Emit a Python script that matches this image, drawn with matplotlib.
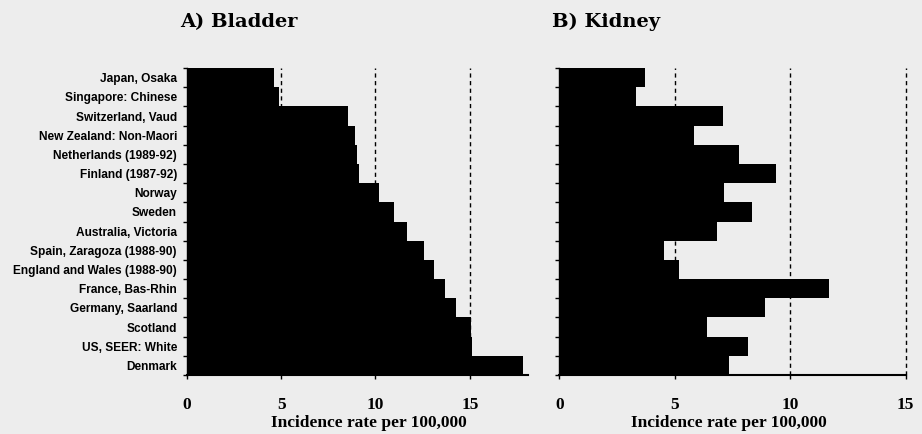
import numpy as np
import matplotlib
matplotlib.use("Agg")
import matplotlib.pyplot as plt
from matplotlib.ticker import FixedLocator, NullFormatter, FixedFormatter

# ----------------------------------------------------------
# DATA (rate per 100,000)
# ----------------------------------------------------------

registries = [
    "Japan, Osaka",
    "Singapore: Chinese",
    "Switzerland, Vaud",
    "New Zealand: Non-Maori",
    "Netherlands (1989-92)",
    "Finland (1987-92)",
    "Norway",
    "Sweden",
    "Australia, Victoria",
    "Spain, Zaragoza (1988-90)",
    "England and Wales (1988-90)",
    "France, Bas-Rhin",
    "Germany, Saarland",
    "Scotland",
    "US, SEER: White",
    "Denmark",
]

bladder = [4.6, 4.87, 8.53, 8.9, 9.0, 9.11, 10.17, 10.97, 11.68, 12.56,
           13.1, 13.7, 14.25, 15.04, 15.1, 17.8]
kidney = [3.72, 3.33, 7.1, 5.84, 7.79, 9.39, 7.15, 8.34, 6.82, 4.52,
          5.2, 11.66, 8.92, 6.39, 8.19, 7.36]

x_ticks = [0, 5, 10, 15]
ref_lines = [5, 10, 15]

BG = "#ededed"
SERIF = "Liberation Serif"
SANS = "Liberation Sans"

# ----------------------------------------------------------
# FIGURE
# ----------------------------------------------------------

fig = plt.figure(figsize=(9.22, 4.34), dpi=100, facecolor=BG)
ax_a = fig.add_axes([0.2025, 0.136, 0.3705, 0.707], facecolor=BG)
ax_b = fig.add_axes([0.6066, 0.136, 0.3757, 0.707], facecolor=BG)

ypos = np.arange(len(registries))


def draw_panel(ax, values, xmax, show_labels, label_x):
    for xv in ref_lines:
        ax.axvline(xv, color="black", linestyle=(0, (3, 2.5)), linewidth=1.0,
                   zorder=1, clip_on=False)
    ax.barh(ypos, values, height=1.0, color="black", edgecolor="none", zorder=2)

    ax.set_xlim(0, xmax)
    ax.set_ylim(len(registries) - 0.5, -0.5)

    for s in ("top", "right"):
        ax.spines[s].set_visible(False)
    ax.spines["left"].set_linewidth(1.0)
    ax.spines["bottom"].set_linewidth(1.5)

    # ticks at bar boundaries, labels at bar centres
    ax.yaxis.set_major_locator(FixedLocator(np.arange(-0.5, len(registries), 1.0)))
    ax.yaxis.set_major_formatter(NullFormatter())
    ax.yaxis.set_minor_locator(FixedLocator(ypos))
    if show_labels:
        ax.yaxis.set_minor_formatter(FixedFormatter(registries))
    else:
        ax.yaxis.set_minor_formatter(NullFormatter())
    ax.tick_params(axis="y", which="major", length=3, width=1.0, direction="out")
    ax.tick_params(axis="y", which="minor", length=0, pad=7)
    for lab in ax.get_yticklabels(minor=True):
        lab.set_fontfamily(SANS)
        lab.set_fontweight("bold")
        lab.set_fontsize(8.6)

    ax.set_xticks(x_ticks)
    ax.tick_params(axis="x", length=3, width=1.0, pad=13)
    for lab in ax.get_xticklabels():
        lab.set_fontfamily(SERIF)
        lab.set_fontweight("bold")
        lab.set_fontsize(12.5)

    ax.set_xlabel("Incidence rate per 100,000", fontfamily=SERIF,
                  fontweight="bold", fontsize=12.5)
    ax.xaxis.set_label_coords(label_x, -0.13)


draw_panel(ax_a, bladder, 18.1, True, 0.534)
draw_panel(ax_b, kidney, 15, False, 0.49)

fig.text(180 / 922, 1 - 22 / 434, "A) Bladder", fontfamily="DejaVu Serif",
         fontweight="bold", fontsize=14, ha="left", va="center")
fig.text(552 / 922, 1 - 22 / 434, "B) Kidney", fontfamily="DejaVu Serif",
         fontweight="bold", fontsize=14, ha="left", va="center")

fig.savefig("out.png", dpi=100, facecolor=BG)
plt.close(fig)
